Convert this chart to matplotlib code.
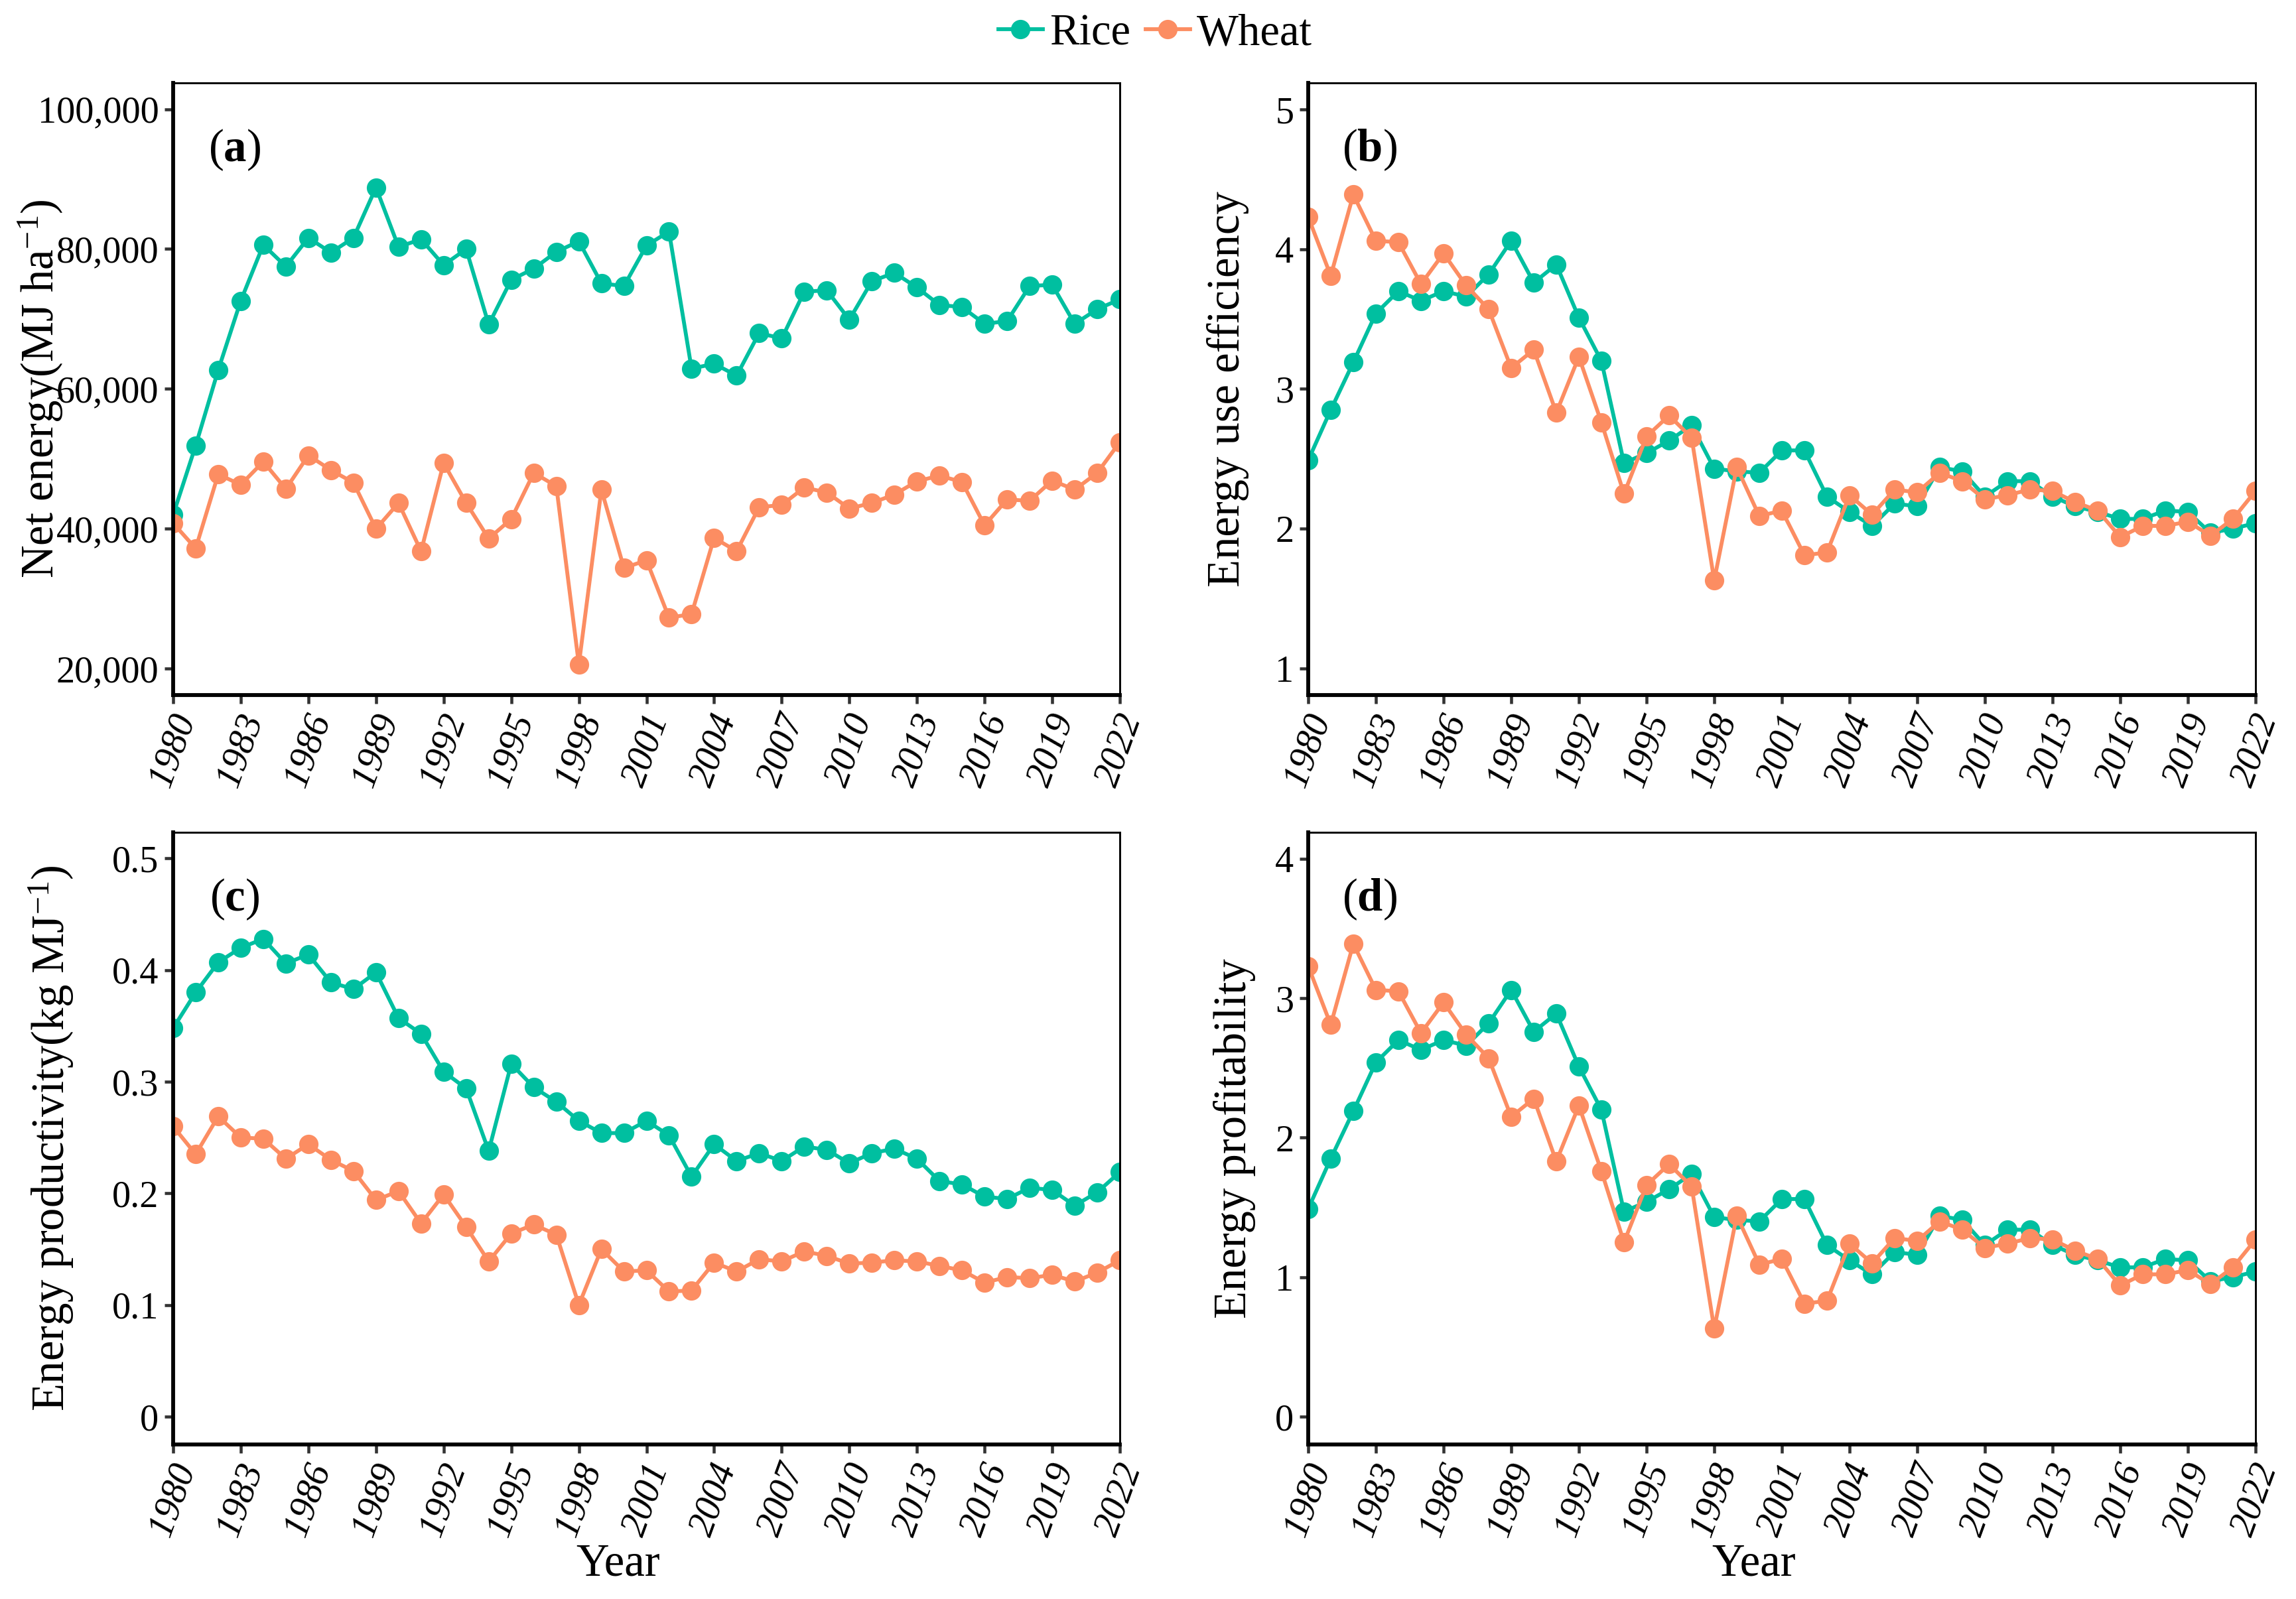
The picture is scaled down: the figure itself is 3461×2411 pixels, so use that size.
import numpy as np
import matplotlib
matplotlib.use("Agg")
import matplotlib.pyplot as plt
from matplotlib.ticker import FuncFormatter

plt.rcParams['font.family'] = ['Liberation Serif', 'DejaVu Serif']
plt.rcParams['mathtext.fontset'] = 'custom'
plt.rcParams['mathtext.rm'] = 'Liberation Serif'
plt.rcParams['mathtext.it'] = 'Liberation Serif:italic'
plt.rcParams['mathtext.bf'] = 'Liberation Serif:bold'

# ======================== Data =============================
years = np.arange(1980, 2023)

# (a) net energy, MJ/ha
rice_net = [42000, 51900, 62700, 72600, 80600, 77500, 81600, 79500, 81600, 88800,
            80300, 81400, 77700, 80000, 69200, 75600, 77200, 79600, 81100, 75100,
            74700, 80500, 82500, 62900, 63600, 61900, 68000, 67200, 73900, 74100,
            69900, 75400, 76600, 74500, 72000, 71700, 69300, 69700, 74700, 74900,
            69300, 71400, 72800]
wheat_net = [40800, 37200, 47800, 46300, 49600, 45700, 50500, 48400, 46600, 40000,
             43700, 36800, 49400, 43700, 38600, 41400, 48000, 46100, 20600, 45600,
             34400, 35500, 27300, 27800, 38700, 36800, 43100, 43400, 45900, 45200,
             42900, 43700, 44900, 46800, 47600, 46700, 40500, 44200, 44000, 46900,
             45600, 48000, 52400]

# (b) energy use efficiency
rice_eue = [2.49, 2.85, 3.19, 3.54, 3.70, 3.63, 3.70, 3.66, 3.82, 4.06,
            3.76, 3.89, 3.51, 3.20, 2.47, 2.54, 2.63, 2.74, 2.43, 2.41,
            2.40, 2.56, 2.56, 2.23, 2.12, 2.02, 2.18, 2.16, 2.44, 2.41,
            2.23, 2.34, 2.34, 2.23, 2.16, 2.12, 2.07, 2.07, 2.13, 2.12,
            1.97, 2.00, 2.04]
wheat_eue = [4.23, 3.81, 4.39, 4.06, 4.05, 3.75, 3.97, 3.74, 3.57, 3.15,
             3.28, 2.83, 3.23, 2.76, 2.25, 2.66, 2.81, 2.65, 1.63, 2.44,
             2.09, 2.13, 1.81, 1.83, 2.24, 2.10, 2.28, 2.26, 2.40, 2.34,
             2.21, 2.24, 2.28, 2.27, 2.19, 2.13, 1.94, 2.02, 2.02, 2.05,
             1.95, 2.07, 2.27]

# (c) energy productivity, kg/MJ
rice_ep = [0.348, 0.380, 0.407, 0.420, 0.428, 0.406, 0.414, 0.389, 0.383, 0.398,
           0.357, 0.343, 0.309, 0.294, 0.238, 0.316, 0.295, 0.282, 0.265, 0.254,
           0.254, 0.265, 0.252, 0.215, 0.244, 0.229, 0.236, 0.229, 0.242, 0.239,
           0.227, 0.236, 0.240, 0.231, 0.211, 0.208, 0.197, 0.195, 0.205, 0.203,
           0.189, 0.201, 0.219]
wheat_ep = [0.260, 0.235, 0.269, 0.250, 0.249, 0.231, 0.244, 0.230, 0.220, 0.194,
            0.202, 0.173, 0.199, 0.170, 0.139, 0.164, 0.172, 0.163, 0.100, 0.150,
            0.130, 0.131, 0.112, 0.113, 0.138, 0.130, 0.141, 0.139, 0.148, 0.144,
            0.137, 0.138, 0.140, 0.139, 0.135, 0.131, 0.120, 0.125, 0.124, 0.127,
            0.121, 0.129, 0.140]

# (d) energy profitability
rice_prof = [1.49, 1.85, 2.19, 2.54, 2.70, 2.63, 2.70, 2.66, 2.82, 3.06,
             2.76, 2.89, 2.51, 2.20, 1.47, 1.54, 1.63, 1.74, 1.43, 1.41,
             1.40, 1.56, 1.56, 1.23, 1.12, 1.02, 1.18, 1.16, 1.44, 1.41,
             1.23, 1.34, 1.34, 1.23, 1.16, 1.12, 1.07, 1.07, 1.13, 1.12,
             0.97, 1.00, 1.04]
wheat_prof = [3.23, 2.81, 3.39, 3.06, 3.05, 2.75, 2.97, 2.74, 2.57, 2.15,
              2.28, 1.83, 2.23, 1.76, 1.25, 1.66, 1.81, 1.65, 0.63, 1.44,
              1.09, 1.13, 0.81, 0.83, 1.24, 1.10, 1.28, 1.26, 1.40, 1.34,
              1.21, 1.24, 1.28, 1.27, 1.19, 1.13, 0.94, 1.02, 1.02, 1.05,
              0.95, 1.07, 1.27]

rice_color = '#00BFA0'
wheat_color = '#FC8D62'

# ======================== Figure =============================
fig = plt.figure(figsize=(11.54, 8.037), dpi=300)

W, H = 3462, 2411
def box(l, t, r, b):
    return [l / W, 1 - b / H, (r - l) / W, (b - t) / H]

panels = [
    dict(pos=box(261, 125, 1688, 1048), rice=rice_net, wheat=wheat_net, tag='a',
         ylim=(16240, 103760), yticks=[20000, 40000, 60000, 80000, 100000],
         ylabel=r'Net energy(MJ ha$^{-1}$)', ylx=-0.114, xlabel=False),
    dict(pos=box(1972, 125, 3400, 1048), rice=rice_eue, wheat=wheat_eue, tag='b',
         ylim=(0.81, 5.19), yticks=[1, 2, 3, 4, 5],
         ylabel='Energy use efficiency', ylx=-0.062, xlabel=False),
    dict(pos=box(261, 1255, 1688, 2178), rice=rice_ep, wheat=wheat_ep, tag='c',
         ylim=(-0.025, 0.5235), yticks=[0, 0.1, 0.2, 0.3, 0.4, 0.5],
         ylabel=r'Energy productivity(kg MJ$^{-1}$)', ylx=-0.103, xlabel=True),
    dict(pos=box(1972, 1255, 3400, 2178), rice=rice_prof, wheat=wheat_prof, tag='d',
         ylim=(-0.2, 4.19), yticks=[0, 1, 2, 3, 4],
         ylabel='Energy profitability', ylx=-0.055, xlabel=True),
]

def fmt(v, pos):
    if abs(v) >= 1000:
        return f'{int(round(v)):,}'
    return f'{v:g}'

for p in panels:
    ax = fig.add_axes(p['pos'])
    ax.plot(years, p['rice'], '-o', color=rice_color, lw=1.4, ms=6, label='Rice')
    ax.plot(years, p['wheat'], '-o', color=wheat_color, lw=1.4, ms=6, label='Wheat')
    ax.set_xlim(1980, 2022)
    ax.set_ylim(*p['ylim'])
    ax.set_xticks(np.arange(1980, 2023, 3))
    ax.set_yticks(p['yticks'])
    ax.yaxis.set_major_formatter(FuncFormatter(fmt))
    for lab in ax.get_xticklabels():
        lab.set_rotation(70)
        lab.set_fontstyle('italic')
        lab.set_ha('center')
        lab.set_va('top')
    ax.tick_params(direction='out', length=3.2, width=1.1, color='#333333',
                   labelsize=13.5, pad=2)
    for s in ['left', 'bottom']:
        ax.spines[s].set_linewidth(1.4)
    for s in ['top', 'right']:
        ax.spines[s].set_linewidth(0.7)
    ax.set_ylabel(p['ylabel'], fontsize=16.5)
    ax.yaxis.set_label_coords(p['ylx'], 0.5)
    if p['xlabel']:
        ax.set_xlabel('Year', fontsize=16.5)
        ax.xaxis.set_label_coords(0.47, -0.161)
    ax.text(0.065, 0.89, r'($\mathbf{%s}$)' % p['tag'], transform=ax.transAxes,
            fontsize=16.5, ha='center', va='center')

handles, labels = fig.axes[0].get_legend_handles_labels()
fig.legend(handles, labels, loc='center', bbox_to_anchor=(0.503, 0.979), ncol=2,
           frameon=False, fontsize=16, handlelength=1.0, handletextpad=0.15,
           columnspacing=0.35, borderaxespad=0)

fig.savefig('out.png', dpi=300)
